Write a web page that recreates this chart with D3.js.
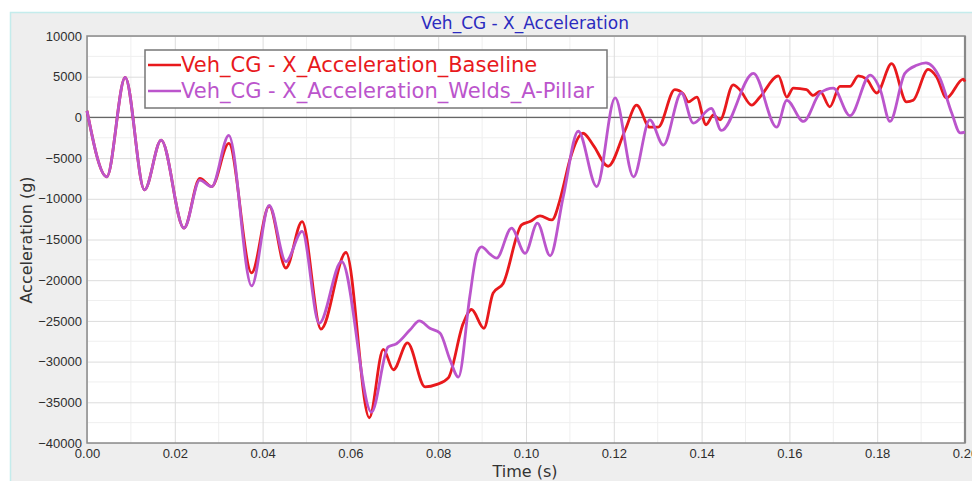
<!DOCTYPE html>
<html>
<head>
<meta charset="utf-8">
<script src="https://cdn.jsdelivr.net/npm/d3@7"></script>
<style>
    html, body {margin: 0; padding: 0; background: #fff;}
    svg {display: block; font-family: "DejaVu Sans", Verdana, sans-serif;}
    .tick text {fill: #2e2e2e; font-size: 13px;}
</style>
</head>
<body>
<div id="chart"></div>
<script>

var title = "Veh_CG - X_Acceleration";
var xLabel = "Time (s)";
var yLabel = "Acceleration (g)";
var seriesNames = ["Veh_CG - X_Acceleration_Baseline", "Veh_CG - X_Acceleration_Welds_A-Pillar"];

var xTickValues = [0, 0.02, 0.04, 0.06, 0.08, 0.10, 0.12, 0.14, 0.16, 0.18, 0.20];
var yTickValues = [10000, 5000, 0, -5000, -10000, -15000, -20000, -25000, -30000, -35000, -40000];

// baseline (red)
var baseTime = [0, 0.0045, 0.0087, 0.0131, 0.0169, 0.0221, 0.0257, 0.0284, 0.0323, 0.0375,
    0.0415, 0.0453, 0.049, 0.0533, 0.059, 0.0643, 0.0675, 0.0698, 0.073, 0.077,
    0.0797, 0.0823, 0.0857, 0.0876, 0.0904, 0.0925, 0.0948, 0.099, 0.1009, 0.1032,
    0.1059, 0.1077, 0.1085, 0.11, 0.113, 0.1153, 0.1187, 0.1226, 0.1252, 0.1282,
    0.1301, 0.1339, 0.1358, 0.137, 0.1389, 0.141, 0.1427, 0.1442, 0.1472, 0.1487,
    0.1514, 0.1533, 0.1575, 0.1594, 0.1609, 0.1639, 0.1654, 0.167, 0.1692, 0.1715,
    0.1738, 0.1757, 0.1776, 0.1799, 0.1833, 0.1867, 0.1882, 0.1916, 0.1935, 0.1958,
    0.1996, 0.2];
var baseAccel = [800, -7300, 4900, -8900, -2800, -13600, -7500, -8500, -3200, -19100,
    -10900, -18500, -12800, -26000, -16600, -36900, -28500, -31000, -27700, -33100,
    -32800, -32000, -25300, -23600, -25900, -21600, -20400, -13200, -12800, -12100,
    -12600, -10200, -8500, -5200, -1950, -3400, -6000, -1550, 1500, -1200,
    -1200, 3400, 2900, 1900, 2500, -900, 300, -300, 4000, 3400,
    1500, 2500, 5100, 2500, 3600, 3400, 2700, 3200, 1300, 3800,
    3800, 5100, 4700, 3000, 6600, 1900, 2100, 5900, 5000, 2400,
    4700, 4400];

// welds a-pillar (purple)
var weldTime = [0, 0.0045, 0.0087, 0.0131, 0.0169, 0.0221, 0.0257, 0.0284, 0.0323, 0.0375,
    0.0415, 0.0453, 0.049, 0.0529, 0.058, 0.0648, 0.0686, 0.0705, 0.0736, 0.0757,
    0.0781, 0.0804, 0.0827, 0.0846, 0.0872, 0.0888, 0.0899, 0.0918, 0.0933, 0.0967,
    0.0998, 0.1026, 0.1055, 0.1085, 0.1119, 0.1161, 0.1203, 0.1245, 0.1282, 0.1313,
    0.1354, 0.1381, 0.1422, 0.1445, 0.1518, 0.1571, 0.1594, 0.1632, 0.167, 0.17,
    0.1738, 0.1784, 0.1807, 0.1829, 0.1863, 0.189, 0.1911, 0.1943, 0.197, 0.1989,
    0.2];
var weldAccel = [800, -7300, 4900, -8900, -2800, -13600, -7700, -8500, -2200, -20700,
    -10800, -17700, -14000, -25300, -17700, -36200, -28200, -27800, -26100, -25000,
    -25900, -26500, -29800, -31900, -22000, -16700, -15900, -16800, -17300, -13600,
    -16700, -13000, -17000, -9700, -1700, -8500, 2400, -7300, -300, -3400,
    3000, -700, 1100, -1600, 5400, -1200, 2100, -500, 3000, 3600,
    200, 5200, 3400, -500, 5400, 6400, 6700, 4800, 500, -1900,
    -1800];

var colors = ["#e8191c", "#bb55cc"];

var W = 972, H = 481;
var margin = {top: 36, right: 7, bottom: 38, left: 87}
    , width = W - margin.left - margin.right
    , height = H - margin.top - margin.bottom;

var svg = d3.select("#chart")
    .append("svg")
    .attr("width", W)
    .attr("height", H);

// outer panel
svg.append("rect")
    .attr("x", 10.5).attr("y", 12.5)
    .attr("width", W).attr("height", H)
    .attr("fill", "#eeeeee")
    .attr("stroke", "#c4ecec")
    .attr("stroke-width", 1.5);

var g = svg.append("g")
    .attr("transform", "translate(" + margin.left + "," + margin.top + ")");

var x = d3.scaleLinear().domain([0, 0.2]).range([0, width]);
var y = d3.scaleLinear().domain([-40000, 10000]).range([height, 0]);

g.append("rect")
    .attr("width", width).attr("height", height)
    .attr("fill", "#fff");

// minor grid
g.append("g")
    .selectAll("line")
    .data(d3.range(1, 20).map(i => i * 0.01).filter(v => Math.round(v * 100) % 2))
    .enter().append("line")
    .attr("x1", d => x(d)).attr("x2", d => x(d))
    .attr("y1", 0).attr("y2", height)
    .attr("stroke", "#efefef");

g.append("g")
    .selectAll("line")
    .data(d3.range(-40000, 10000, 2500).filter(v => v % 5000))
    .enter().append("line")
    .attr("y1", d => y(d)).attr("y2", d => y(d))
    .attr("x1", 0).attr("x2", width)
    .attr("stroke", "#efefef");

var xAxis = d3.axisBottom(x)
    .tickValues(xTickValues)
    .tickSizeInner(-height)
    .tickSizeOuter(0)
    .tickPadding(5)
    .tickFormat(d3.format(".2f"));

var yAxis = d3.axisLeft(y)
    .tickValues(yTickValues)
    .tickSizeInner(-width)
    .tickSizeOuter(0)
    .tickPadding(5)
    .tickFormat(d3.format("d"));

g.append("g")
    .attr("class", "axis axis--x")
    .attr("transform", "translate(0," + height + ")")
    .call(xAxis)
    .call(s => s.select(".domain").remove())
    .call(s => s.selectAll(".tick line").attr("stroke", "#dcdcdc"))
    .call(s => s.selectAll(".tick text").attr("dy", "0.8em"));

g.append("g")
    .attr("class", "axis axis--y")
    .call(yAxis)
    .call(s => s.select(".domain").remove())
    .call(s => s.selectAll(".tick line").attr("stroke", "#dcdcdc"))
    .call(s => s.selectAll(".tick text").attr("x", -5));

g.selectAll(".tick text").attr("font-family", null).attr("font-size", null);

// zero line
g.append("line")
    .attr("x1", 0).attr("x2", width)
    .attr("y1", y(0)).attr("y2", y(0))
    .attr("stroke", "#666")
    .attr("stroke-width", 1.2);

// frame
g.append("rect")
    .attr("width", width).attr("height", height)
    .attr("fill", "none")
    .attr("stroke", "#8a8a8a")
    .attr("stroke-width", 1.5);
g.append("line")
    .attr("x1", width).attr("x2", width)
    .attr("y1", 0).attr("y2", height)
    .attr("stroke", "#888")
    .attr("stroke-width", 2.2);

var line_gen = d3.line()
    .x(d => x(d[0]))
    .y(d => y(d[1]))
    .curve(d3.curveMonotoneX);

var series = [d3.zip(baseTime, baseAccel), d3.zip(weldTime, weldAccel)];

g.append("g")
    .attr("class", "line-pane")
    .selectAll("path")
    .data(series)
    .enter().append("path")
    .attr("d", line_gen)
    .attr("fill", "none")
    .attr("stroke", (d, i) => colors[i])
    .attr("stroke-width", 2.8)
    .attr("stroke-linejoin", "round");

// legend
var legend = svg.append("g").attr("transform", "translate(145,50)");
legend.append("rect")
    .attr("width", 462).attr("height", 58)
    .attr("fill", "#fff")
    .attr("stroke", "#777")
    .attr("stroke-width", 1.5);

seriesNames.forEach(function(name, i) {
    var ly = 15 + i * 26;
    legend.append("line")
        .attr("x1", 3).attr("x2", 36)
        .attr("y1", ly).attr("y2", ly)
        .attr("stroke", colors[i])
        .attr("stroke-width", 2.5);
    legend.append("text")
        .attr("x", 36).attr("y", ly + 7)
        .attr("fill", colors[i])
        .attr("font-size", "21px")
        .text(name);
});

// titles
svg.append("text")
    .attr("x", 525).attr("y", 29)
    .attr("text-anchor", "middle")
    .attr("fill", "#2b2bbf")
    .attr("font-size", "17px")
    .text(title);

svg.append("text")
    .attr("x", 525).attr("y", 477)
    .attr("text-anchor", "middle")
    .attr("fill", "#333")
    .attr("font-size", "16px")
    .text(xLabel);

svg.append("text")
    .attr("transform", "translate(32,240) rotate(-90)")
    .attr("text-anchor", "middle")
    .attr("fill", "#333")
    .attr("font-size", "16px")
    .text(yLabel);

</script>
</body>
</html>
